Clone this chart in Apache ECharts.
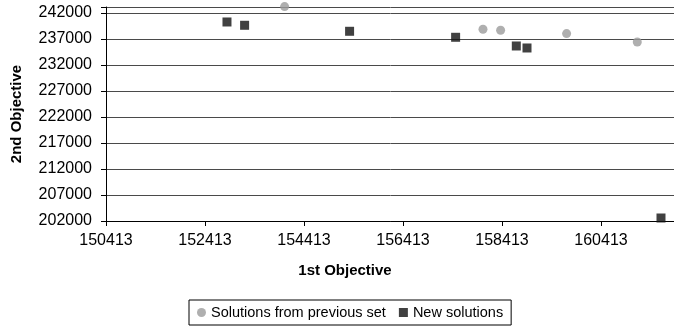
<!DOCTYPE html>
<html>
<head>
<meta charset="utf-8">
<script src="https://cdn.jsdelivr.net/npm/echarts@6/dist/echarts.min.js"></script>
<style>
  html, body { margin: 0; padding: 0; background: #fff; }
  #chart { width: 674px; height: 329px; }
</style>
</head>
<body>
<div id="chart"></div>
<script>
// Tick labels of both objectives
const xTicks = [150413, 152413, 154413, 156413, 158413, 160413, 162413];
const yTicks = [202000, 207000, 212000, 217000, 222000, 227000, 232000, 237000, 242000];
const yTop = 243150;

// Solutions kept from the previous set
const prevFirst  = [154021, 158029, 158385, 159718, 161146];
const prevSecond = [243231, 238865, 238673, 238038, 236423];

// Newly found solutions
const newFirst  = [152857, 153213, 155334, 157476, 158702, 158918, 161625];
const newSecond = [240269, 239635, 238481, 237327, 235654, 235269, 202577];

// Axes run from their first tick, so values are measured from that origin
const xBase = xTicks[0];
const yBase = yTicks[0];
const xStep = xTicks[1] - xTicks[0];
const yStep = yTicks[1] - yTicks[0];
const xShown = xTicks.slice(0, 6);

const pairs = (xs, ys) => xs.map((x, i) => [x - xBase, ys[i] - yBase]);

const FONT = '"Liberation Sans", Arial, sans-serif';

const chart = echarts.init(document.getElementById('chart'), null, { renderer: 'canvas' });
chart.setOption({
  animation: false,
  backgroundColor: '#fff',
  textStyle: { fontFamily: FONT },
  grid: { left: 106, top: 7, bottom: 108, width: 594, containLabel: false, outerBoundsMode: 'none' },
  title: {
    text: '1st Objective',
    left: 345,
    top: 263,
    textAlign: 'center',
    padding: 0,
    textStyle: { fontFamily: FONT, fontSize: 15, fontWeight: 'bold', color: '#000' }
  },
  xAxis: {
    type: 'value',
    min: 0,
    max: xTicks[xTicks.length - 1] - xBase,
    interval: xStep,
    axisLine: { show: true, onZero: false, lineStyle: { color: '#000', width: 1 } },
    axisTick: { show: true, inside: false, length: 5, lineStyle: { color: '#000' } },
    axisLabel: {
      margin: 12,
      fontSize: 16,
      color: '#000',
      fontFamily: FONT,
      formatter: v => (xShown.includes(v + xBase) ? String(v + xBase) : '')
    },
    splitLine: { show: false }
  },
  yAxis: {
    type: 'value',
    min: 0,
    max: yTop - yBase,
    interval: yStep,
    name: '2nd Objective',
    nameLocation: 'middle',
    nameGap: 82,
    nameTextStyle: { fontFamily: FONT, fontSize: 15, fontWeight: 'bold', color: '#000' },
    axisLine: { show: true, onZero: false, lineStyle: { color: '#000', width: 1 } },
    axisTick: { show: true, inside: false, length: 5, lineStyle: { color: '#000' } },
    axisLabel: {
      margin: 14,
      fontSize: 16,
      color: '#000',
      fontFamily: FONT,
      formatter: v => (yTicks.includes(v + yBase) ? String(v + yBase) : '')
    },
    splitLine: { show: true, lineStyle: { color: '#4a4a4a', width: 1 } }
  },
  legend: {
    left: 189,
    top: 300,
    orient: 'horizontal',
    borderColor: '#000',
    borderWidth: 1,
    padding: [5, 8],
    itemGap: 13,
    itemWidth: 9,
    itemHeight: 9,
    textStyle: { fontFamily: FONT, fontSize: 14.5, color: '#000' },
    data: [
      { name: 'Solutions from previous set', icon: 'circle' },
      { name: 'New solutions', icon: 'rect' }
    ]
  },
  series: [
    {
      name: 'Solutions from previous set',
      type: 'scatter',
      symbol: 'circle',
      symbolSize: 9,
      clip: false,
      itemStyle: { color: '#9b9b9b' },
      data: pairs(prevFirst, prevSecond)
    },
    {
      name: 'New solutions',
      type: 'scatter',
      symbol: 'rect',
      symbolSize: 9,
      clip: false,
      itemStyle: { color: '#111' },
      data: pairs(newFirst, newSecond)
    }
  ]
});
</script>
</body>
</html>
